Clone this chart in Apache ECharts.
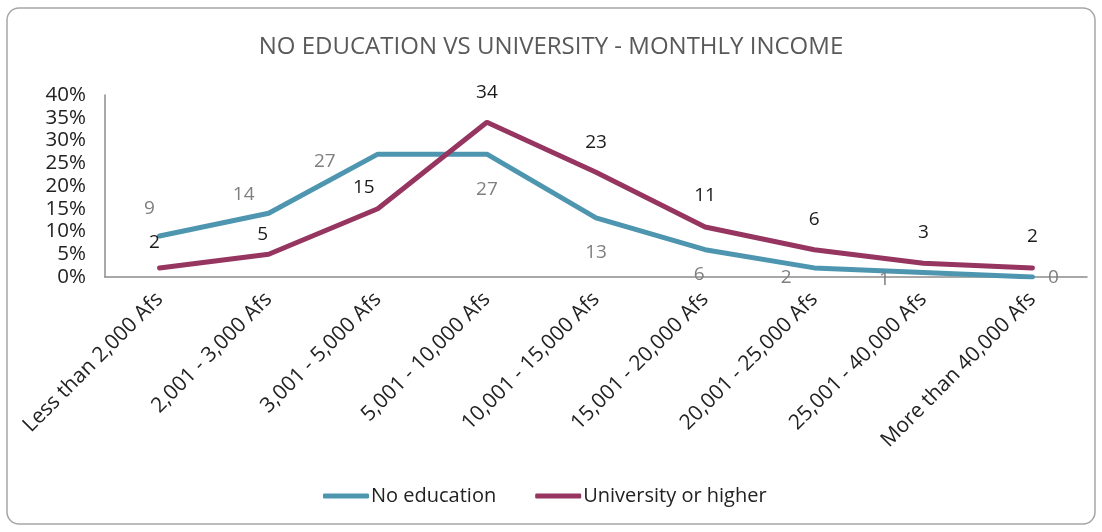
<!DOCTYPE html>
<html>
<head>
<meta charset="utf-8">
<script src="https://cdn.jsdelivr.net/npm/echarts@6/dist/echarts.min.js"></script>
<style>
  html, body { margin: 0; padding: 0; background: #fff; }
  #chart { width: 1102px; height: 532px; }
</style>
</head>
<body>
<div id="chart"></div>
<script>
// data
var categories = ['Less than 2,000 Afs', '2,001 - 3,000 Afs', '3,001 - 5,000 Afs', '5,001 - 10,000 Afs',
  '10,001 - 15,000 Afs', '15,001 - 20,000 Afs', '20,001 - 25,000 Afs', '25,001 - 40,000 Afs', 'More than 40,000 Afs'];
var noEducation = [9, 14, 27, 27, 13, 6, 2, 1, 0];
var university = [2, 5, 15, 34, 23, 11, 6, 3, 2];

// label offsets (px) to mimic the Excel placement
var noEduOffsets = [[-10, -27], [-25, -19], [-53, 7], [0, 35], [0, 35], [-6, 25], [-28, 10], [-39, 7], [21, 1]];
var uniOffsets = [[-5, -25], [-6, -20], [-14, -21], [0, -30], [0, -30], [0, -31], [0, -30], [0, -31], [0, -31]];

var FONT = 'Open Sans';

function buildData(values, offsets, color) {
  return values.map(function (v, i) {
    return {
      value: v,
      label: { offset: offsets[i], color: color }
    };
  });
}

var chart = echarts.init(document.getElementById('chart'), null, { renderer: 'canvas' });
var option = {
  animation: false,
  textStyle: { fontFamily: FONT },
  title: {
    text: 'NO EDUCATION VS UNIVERSITY - MONTHLY INCOME',
    left: 'center',
    top: 30,
    textStyle: { color: '#595959', fontSize: 24, fontWeight: 'normal', fontFamily: FONT }
  },
  legend: {
    bottom: 21,
    left: 318,
    itemWidth: 46,
    itemHeight: 5,
    itemGap: 39,
    icon: 'roundRect',
    textStyle: { color: '#222', fontSize: 20, fontFamily: FONT, padding: [0, 0, 0, -3] },
    data: ['No education', 'University or higher']
  },
  grid: { left: 105, right: 15, top: 95, bottom: 255, containLabel: false },
  xAxis: {
    type: 'category',
    data: categories,
    boundaryGap: true,
    axisLine: { lineStyle: { color: '#8c8c8c', width: 1.5 } },
    axisTick: { show: false },
    axisLabel: { rotate: 45, interval: 0, margin: 19, color: '#222', fontSize: 21, fontFamily: FONT }
  },
  yAxis: {
    type: 'value',
    min: 0,
    max: 40,
    interval: 5,
    splitLine: { show: false },
    axisLine: { show: true, lineStyle: { color: '#8c8c8c', width: 1.5 } },
    axisTick: { show: false },
    axisLabel: { formatter: '{value}%', color: '#222', fontSize: 20.5, margin: 19, fontFamily: FONT, lineHeight: 20 }
  },
  series: [
    {
      name: 'No education',
      type: 'line',
      data: buildData(noEducation, noEduOffsets, '#7f7f7f'),
      symbol: 'circle',
      symbolSize: 0.1,
      lineStyle: { color: '#4e96b0', width: 5, cap: 'round' },
      itemStyle: { color: '#4e96b0' },
      label: { show: true, position: 'inside', fontSize: 19, fontFamily: FONT }
    },
    {
      name: 'University or higher',
      type: 'line',
      data: buildData(university, uniOffsets, '#1a1a1a'),
      symbol: 'circle',
      symbolSize: 0.1,
      lineStyle: { color: '#963560', width: 5, cap: 'round' },
      itemStyle: { color: '#963560' },
      label: { show: true, position: 'inside', fontSize: 19, fontFamily: FONT }
    }
  ],
  graphic: [{
    type: 'rect',
    silent: true,
    z: -1,
    shape: { x: 7, y: 8, width: 1088, height: 516, r: 12 },
    style: { fill: 'none', stroke: '#a6a6a6', lineWidth: 1.5 }
  }]
};
chart.setOption(option);
</script>
</body>
</html>
